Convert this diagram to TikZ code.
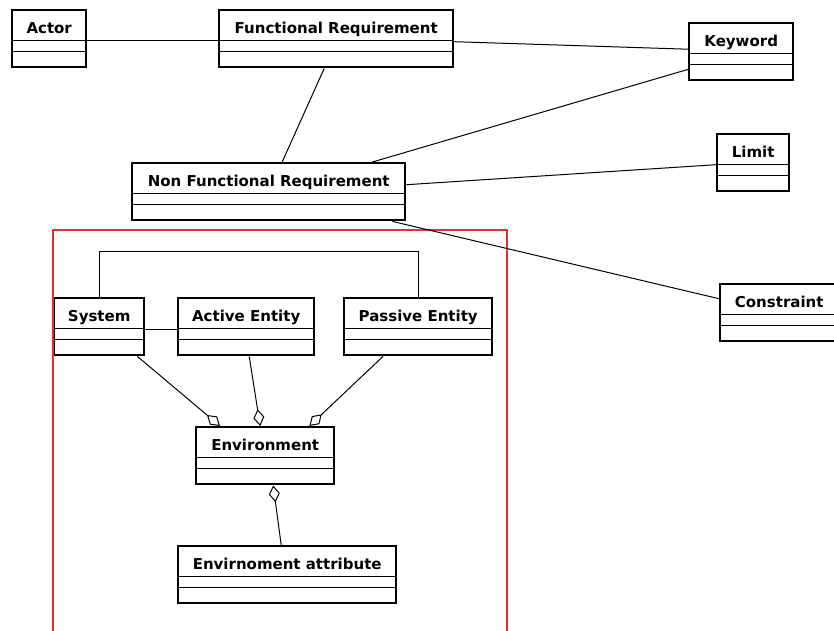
\documentclass[tikz,border=0pt]{standalone}
\usepackage{fontspec}
\setmainfont{DejaVu Sans}
\usetikzlibrary{arrows.meta}
\definecolor{framered}{RGB}{235,45,45}

\begin{document}
\begin{tikzpicture}[x=1pt,y=-1pt,
	umlclass/.style={draw=black,line width=2.4pt,inner sep=0pt,anchor=north west,
		text height=23pt,text depth=34pt,font=\fontsize{15}{18}\selectfont\bfseries},
	assoc/.style={-,line width=1pt},
	agg/.style={{Diamond[open,length=17pt,width=11pt]}-,line width=1pt},
	frame/.style={draw=framered,line width=1.2pt}]
	
	\useasboundingbox (0,0) rectangle (834,630);
	
	\node[umlclass,minimum width=74pt]  (actor)      at (11, 9)    {Actor};
	\node[umlclass,minimum width=234pt] (func)       at (218, 9)   {Functional Requirement};
	\node[umlclass,minimum width=104pt] (keyword)    at (688, 22)  {Keyword};
	\node[umlclass,minimum width=72pt]  (limit)      at (716, 133) {Limit};
	\node[umlclass,minimum width=273pt] (nonfunc)    at (131, 162) {Non Functional Requirement};
	\node[umlclass,minimum width=118pt] (constraint) at (719, 283) {Constraint};
	\node[umlclass,minimum width=90pt]  (system)     at (53, 297)  {System};
	\node[umlclass,minimum width=136pt] (active)     at (177, 297) {Active Entity};
	\node[umlclass,minimum width=148pt] (passive)    at (343, 297) {Passive Entity};
	\node[umlclass,minimum width=138pt] (env)        at (195, 426) {Environment};
	\node[umlclass,minimum width=218pt] (envattr)    at (177, 545) {Envirnoment attribute};
	
	\foreach \n in {actor,func,keyword,limit,nonfunc,constraint,system,active,passive,env,envattr}
	{
		\draw[line width=1pt] ([yshift=-31pt]\n.north west) -- ([yshift=-31pt]\n.north east);
		\draw[line width=1pt] ([yshift=-42pt]\n.north west) -- ([yshift=-42pt]\n.north east);
	}
	
	\draw[frame] (53, 640) -- (53, 230) -- (507, 230) -- (507, 640);
	
	\path[assoc] ([yshift=-2pt]actor.east)            edge ([yshift=-2pt]func.west);
	\path[assoc] ([yshift=-3pt]func.east)             edge ([yshift=2.5pt]keyword.west);
	\path[assoc] ([xshift=-12pt]func.south)           edge ([xshift=13.5pt]nonfunc.north);
	\path[assoc] ([xshift=-34pt]nonfunc.north east)   edge ([yshift=12pt]keyword.south west);
	\path[assoc] ([yshift=7pt]nonfunc.east)           edge ([yshift=-2pt]limit.west);
	\path[assoc] ([xshift=-14pt]nonfunc.south east)   edge ([yshift=14pt]constraint.west);
	
	\path[assoc] ([yshift=-3pt]system.east)           edge ([yshift=-3pt]active.west);
	\draw[assoc] (system.north) -- ++(0, -46) -| (passive.north);
	
	\path[agg] ([xshift=25pt]env.north west)          edge ([xshift=-8pt]system.south east);
	\path[agg] ([xshift=-5pt]env.north)               edge ([xshift=3pt]active.south);
	\path[agg] ([xshift=-26pt]env.north east)         edge ([xshift=40pt]passive.south west);
	\path[agg] ([xshift=8pt]env.south)                edge ([xshift=-6pt]envattr.north);
	
\end{tikzpicture}
\end{document}
